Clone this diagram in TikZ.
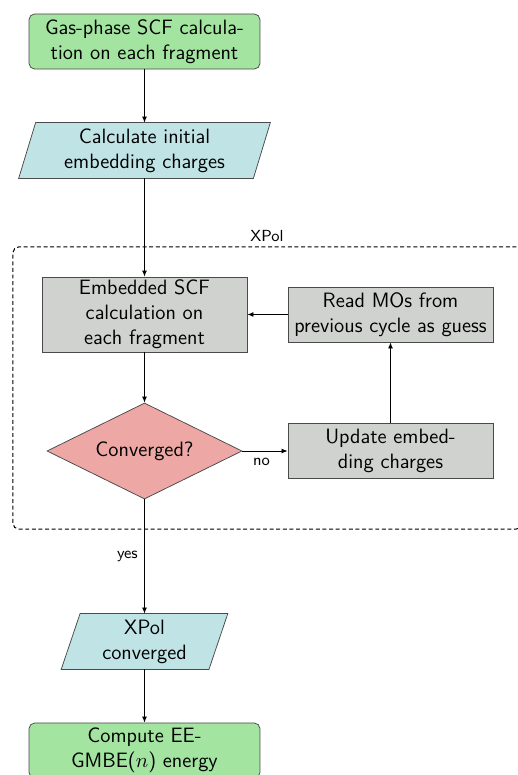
\documentclass[tikz,border=0pt]{standalone}
\usetikzlibrary{arrows.meta,shapes.geometric,backgrounds}

\definecolor{startgreen}{HTML}{A3E4A0}
\definecolor{iocyan}{HTML}{C0E4E6}
\definecolor{procgray}{HTML}{D0D2D0}
\definecolor{decred}{HTML}{EDA8A6}
\definecolor{edgegray}{HTML}{4A4A4A}

\tikzset{
  x=0.53pt, y=-0.53pt,
  every node/.style={font=\sffamily\fontsize{11}{13.2}\selectfont, align=center},
  terminal/.style={draw=edgegray, fill=startgreen, rounded corners=3pt,
    minimum width=122.4pt, minimum height=29.2pt, inner sep=1pt},
  iotext/.style={shape=rectangle, minimum height=29.2pt, inner sep=1pt},
  iofill/.style={draw=edgegray, fill=iocyan},
  process/.style={draw=edgegray, fill=procgray, minimum width=108.7pt,
    minimum height=29.2pt, inner sep=1pt},
  decision/.style={diamond, aspect=2, draw=edgegray, fill=decred,
    minimum width=103.4pt, minimum height=50.9pt, inner sep=0pt},
  flow/.style={-{Latex[length=3.2pt,width=2.6pt]}, black, line width=0.45pt},
  edgelabel/.style={font=\sffamily\fontsize{8.5}{10}\selectfont},
  groupbox/.style={draw=black, dash pattern=on 2.1pt off 1.4pt, rounded corners=3pt,
    line width=0.55pt, minimum width=269.8pt, minimum height=149.5pt, inner sep=0pt}
}

\begin{document}
\begin{tikzpicture}
  \clip (0,0) rectangle (518,775);
  \useasboundingbox (0,0) rectangle (518,775);

  % dashed group for the XPol cycle
  \node[groupbox] (xpol) at (267.5,388) {};
  \node[edgelabel] (xpollabel) at (267,236) {XPol};

  % main column
  \node[terminal] (gas) at (144.5,41.5) {Gas-phase SCF calcula-\\tion on each fragment};
  \node[iotext, minimum width=124pt] (init) at (144.5,150.5) {Calculate initial\\embedding charges};
  \node[process, minimum height=39.75pt] (emb) at (144.5,314.5) {Embedded SCF\\calculation on\\each fragment};
  \node[decision] (conv) at (144.5,451) {Converged?};
  \node[iotext, minimum width=77.9pt] (done) at (144.5,641.5) {XPol\\converged};
  \node[terminal] (gmbe) at (144.5,750.5) {Compute EE-\\GMBE($n$) energy};

  % right column of the cycle
  \node[process] (read) at (390.5,314.5) {Read MOs from\\previous cycle as guess};
  \node[process] (upd) at (390.5,451) {Update embed-\\ding charges};

  % slanted input/output shapes behind their text
  \begin{scope}[on background layer]
    \draw[iofill] ([xshift=4.5pt]init.north west) -- ([xshift=4.5pt]init.north east)
      -- ([xshift=-4.5pt]init.south east) -- ([xshift=-4.5pt]init.south west) -- cycle;
    \draw[iofill] ([xshift=5pt]done.north west) -- ([xshift=5pt]done.north east)
      -- ([xshift=-5pt]done.south east) -- ([xshift=-5pt]done.south west) -- cycle;
  \end{scope}

  % connectors
  \draw[flow] (gas) -- (init);
  \draw[flow] (init) -- (emb);
  \draw[flow] (emb) -- (conv);
  \draw[flow] (conv.east) -- node[edgelabel, below, pos=0.42] {no} (upd.west);
  \draw[flow] (upd) -- (read);
  \draw[flow] (read) -- (emb);
  \draw[flow] (conv.south) -- node[edgelabel, left, pos=0.5] {yes} (done.north);
  \draw[flow] (done) -- (gmbe);
\end{tikzpicture}
\end{document}
